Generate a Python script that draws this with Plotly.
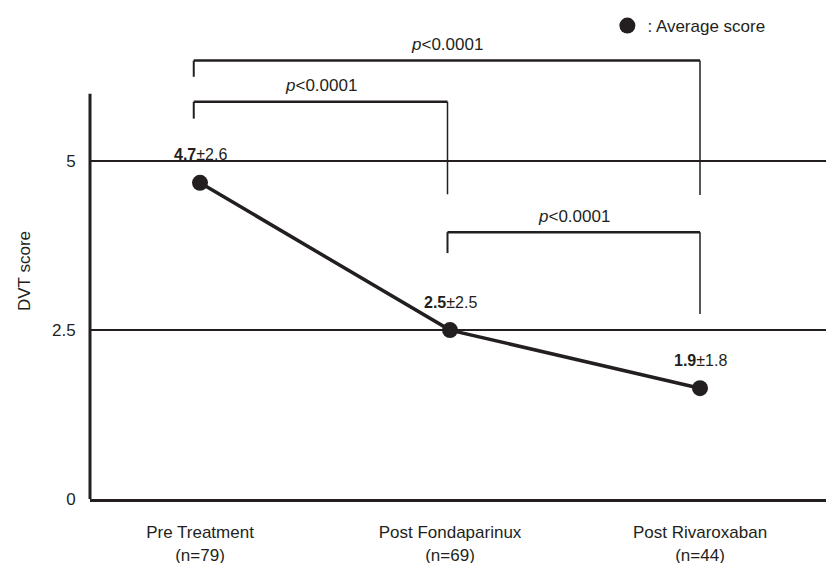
import plotly.graph_objects as go

# ---- data ----
categories = ["Pre Treatment<br>(n=79)", "Post Fondaparinux<br>(n=69)", "Post Rivaroxaban<br>(n=44)"]
cat_pos = [1, 2, 3]
avg_scores = [4.68, 2.5, 1.64]          # plotted positions
mean_text = ["4.7", "2.5", "1.9"]
sd_text = ["2.6", "2.5", "1.8"]
y_ticks = [0, 2.5, 5]
y_ticktext = ["0", "2.5", "5"]

# brackets: (x_left, x_right, y_bar, y_left_end, y_right_end, label)
brackets = [
    (0.975, 3.0, 6.49, 6.25, 4.50, "<i>p</i>&lt;0.0001"),
    (0.975, 1.99, 5.88, 5.63, 4.51, "<i>p</i>&lt;0.0001"),
    (1.99, 3.0, 3.95, 3.64, 2.74, "<i>p</i>&lt;0.0001"),
]

INK = "#231f20"
FONT = "Liberation Sans, Arial, sans-serif"

fig = go.Figure()
fig.add_trace(go.Scatter(
    x=cat_pos, y=avg_scores, mode="lines+markers",
    line=dict(color=INK, width=3.5),
    marker=dict(color=INK, size=16),
    showlegend=False, cliponaxis=False,
))
# legend dummy
fig.add_trace(go.Scatter(
    x=[None], y=[None], mode="markers",
    marker=dict(color=INK, size=16),
    name=": Average score", showlegend=True,
))

# value labels
for xp, yv, m, s in zip(cat_pos, avg_scores, mean_text, sd_text):
    fig.add_annotation(x=xp, y=yv, text=f"<b>{m}</b>±{s}", showarrow=False,
                       yshift=28, font=dict(size=16, color=INK, family=FONT))

# brackets
for x0, x1, yb, yl, yr, lab in brackets:
    fig.add_shape(type="line", x0=x0, x1=x1, y0=yb, y1=yb, xref="x", yref="y",
                  line=dict(color=INK, width=2.5))
    fig.add_shape(type="line", x0=x0, x1=x0, y0=yb, y1=yl, xref="x", yref="y",
                  line=dict(color=INK, width=2))
    fig.add_shape(type="line", x0=x1, x1=x1, y0=yb, y1=yr, xref="x", yref="y",
                  line=dict(color=INK, width=1.5))
    fig.add_annotation(x=(x0 + x1) / 2, y=yb, text=lab, showarrow=False,
                       yshift=16, font=dict(size=17, color=INK, family=FONT))

# y axis line up to 6
fig.add_shape(type="line", x0=0, x1=0, xref="paper", y0=0, y1=6, yref="y",
              line=dict(color=INK, width=3))

fig.update_layout(
    width=834, height=563,
    margin=dict(l=82, r=0, t=34, b=72),
    plot_bgcolor="white", paper_bgcolor="white",
    font=dict(family=FONT, size=17, color=INK),
    legend=dict(x=0.688, y=1.037, xanchor="left", yanchor="middle",
                bgcolor="rgba(0,0,0,0)", font=dict(size=17, color=INK, family=FONT),
                itemwidth=30),
    xaxis=dict(
        range=[0.56, 3.568], tickmode="array", tickvals=cat_pos, ticktext=categories,
        showgrid=False, zeroline=False, showline=True, linecolor=INK, linewidth=3,
        ticks="outside", ticklen=16, tickcolor="white",
        tickfont=dict(size=17, color=INK, family=FONT),
    ),
    yaxis=dict(
        range=[0, 6.75], tickmode="array", tickvals=y_ticks, ticktext=y_ticktext,
        showgrid=True, gridcolor=INK, gridwidth=2, zeroline=False, showline=False,
        ticks="outside", ticklen=10, tickcolor="white",
        tickfont=dict(size=17, color=INK, family=FONT),
        title=dict(text="DVT score", standoff=17, font=dict(size=17, color=INK, family=FONT)),
    ),
)

fig.write_html("out.html")
